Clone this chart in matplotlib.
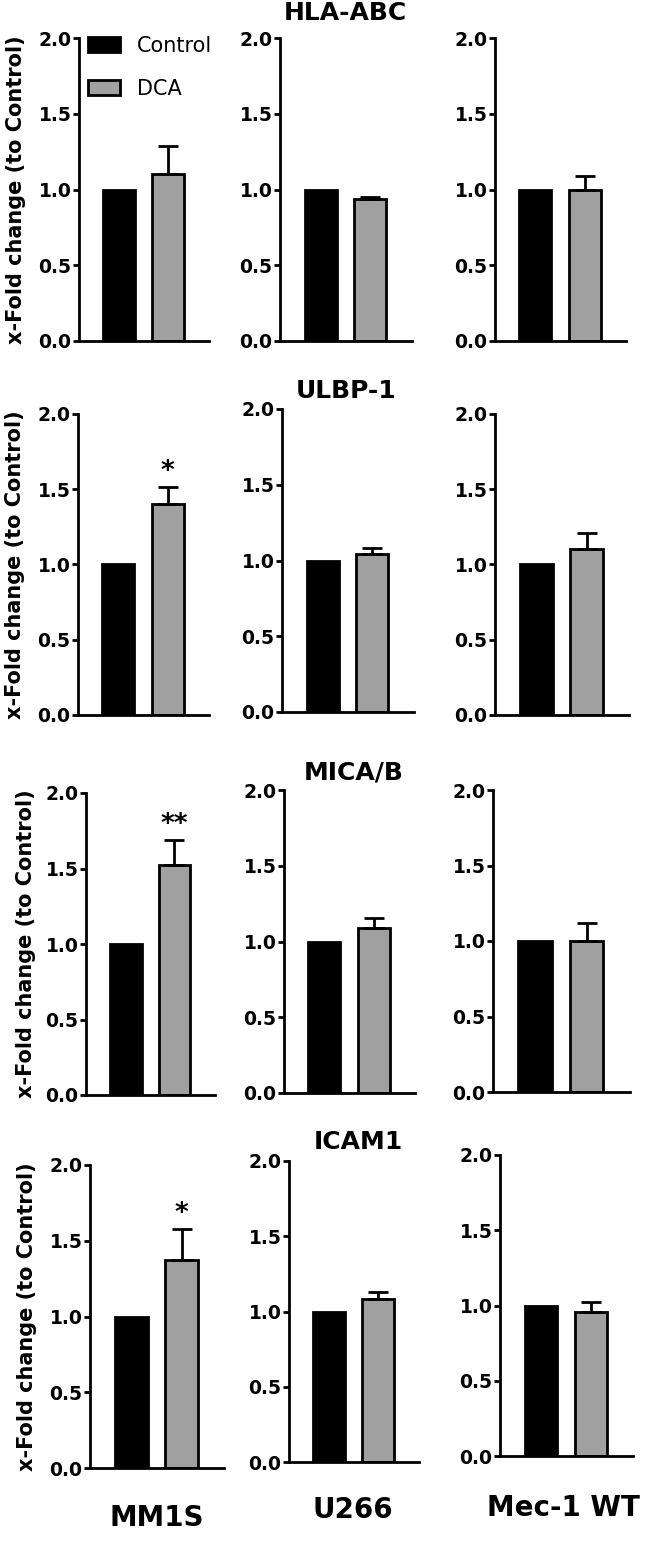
import numpy as np
import matplotlib
matplotlib.use("Agg")
import matplotlib.pyplot as plt
from matplotlib.patches import Patch

# data (control is normalised to 1)
cell_lines = ["MM1S", "U266", "Mec-1 WT"]
markers = ["HLA-ABC", "ULBP-1", "MICA/B", "ICAM1"]
groups = ["Control", "DCA"]
control_mean = [[1.0, 1.0, 1.0],
                [1.0, 1.0, 1.0],
                [1.0, 1.0, 1.0],
                [1.0, 1.0, 1.0]]
dca_mean = [[1.10, 0.94, 1.00],
            [1.40, 1.04, 1.10],
            [1.52, 1.09, 1.00],
            [1.37, 1.08, 0.96]]
dca_err = [[0.19, 0.01, 0.09],
           [0.115, 0.045, 0.11],
           [0.17, 0.065, 0.12],
           [0.21, 0.05, 0.06]]
signif = [["", "", ""],
          ["*", "", ""],
          ["**", "", ""],
          ["*", "", ""]]
yticks = [0.0, 0.5, 1.0, 1.5, 2.0]

W, H = 646, 1541
# panel boxes in pixels: (left, right, top, bottom)
boxes = [[(79, 209, 38, 341), (280, 412, 38, 341), (495, 626, 38, 341)],
         [(78, 209, 414, 715), (282, 414, 409, 712), (495, 629, 414, 715)],
         [(86, 215, 793, 1095), (284, 415, 790, 1093), (493, 630, 790, 1092)],
         [(90, 224, 1165, 1468), (289, 419, 1161, 1462), (500, 633, 1155, 1456)]]
title_pos = [(345, 13), (346, 391), (354, 772), (358, 1142)]
ylab_x = [16, 15, 26, 27]
bottom_pos = [(157, 1518), (353, 1510), (563, 1508)]

bold = dict(family="DejaVu Sans", weight="bold")
lw = 2.0
fig = plt.figure(figsize=(W / 100, H / 100), dpi=100)

for r in range(4):
    for c in range(3):
        l, rt, t, b = boxes[r][c]
        ax = fig.add_axes([l / W, 1 - b / H, (rt - l) / W, (b - t) / H])
        ax.bar(0, control_mean[r][c], width=0.65, color="black",
               edgecolor="black", linewidth=lw)
        ax.bar(1, dca_mean[r][c], width=0.65, color="#a0a0a0",
               edgecolor="black", linewidth=lw)
        ax.errorbar(1, dca_mean[r][c], yerr=[[0], [dca_err[r][c]]],
                    fmt="none", ecolor="black", elinewidth=lw,
                    capsize=7, capthick=lw)
        if signif[r][c]:
            ax.text(1, dca_mean[r][c] + dca_err[r][c] + 0.01, signif[r][c],
                    ha="center", va="bottom", fontsize=19, **bold)
        ax.set_xlim(-0.82, 1.84)
        ax.set_ylim(0, 2)
        ax.set_yticks(yticks)
        ax.set_yticklabels(["%.1f" % v for v in yticks], fontsize=13.5, **bold)
        ax.set_xticks([])
        for s in ["top", "right"]:
            ax.spines[s].set_visible(False)
        for s in ["left", "bottom"]:
            ax.spines[s].set_linewidth(lw)
        ax.tick_params(axis="y", length=4.5, width=lw, pad=1)
        if r == 0 and c == 0:
            handles = [Patch(facecolor="black", edgecolor="black", linewidth=lw),
                       Patch(facecolor="#a0a0a0", edgecolor="black", linewidth=lw)]
            ax.legend(handles, groups, loc="upper left",
                      bbox_to_anchor=(88 / W, 1 - 36 / H),
                      bbox_transform=fig.transFigure, frameon=False,
                      fontsize=15, handlelength=1.55, handleheight=0.75,
                      labelspacing=1.1, handletextpad=0.8, borderpad=0,
                      borderaxespad=0)
    fig.text(title_pos[r][0] / W, 1 - title_pos[r][1] / H, markers[r],
             ha="center", va="center", fontsize=18, **bold)
    yc = (boxes[r][0][2] + boxes[r][0][3]) / 2
    fig.text(ylab_x[r] / W, 1 - yc / H, "x-Fold change (to Control)",
             rotation=90, ha="center", va="center", fontsize=15, **bold)

for c in range(3):
    fig.text(bottom_pos[c][0] / W, 1 - bottom_pos[c][1] / H, cell_lines[c],
             ha="center", va="center", fontsize=20, **bold)

fig.savefig("out.png", dpi=100)
